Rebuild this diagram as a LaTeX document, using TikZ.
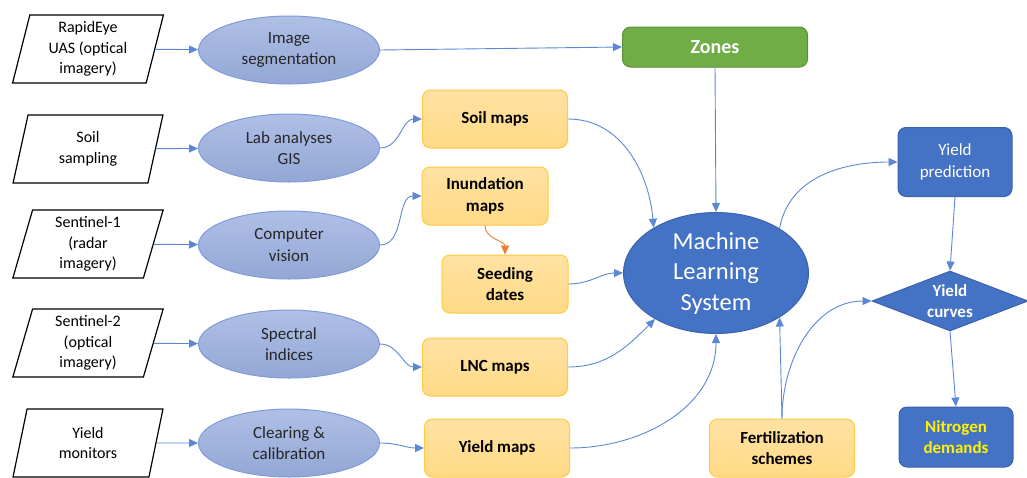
\documentclass[tikz,border=0pt]{standalone}
\usepackage{fontspec}
\setmainfont{Carlito}
\usetikzlibrary{shapes.geometric,arrows.meta}
\definecolor{procfill}{HTML}{9BB0E0}
\definecolor{procline}{HTML}{7F9BD8}
\definecolor{mapfill}{HTML}{FFD985}
\definecolor{mapline}{HTML}{FFC941}
\definecolor{darkblue}{HTML}{4472C4}
\definecolor{darkline}{HTML}{3A62AD}
\definecolor{zonegreen}{HTML}{70AD47}
\definecolor{zoneline}{HTML}{5A8F38}
\definecolor{linkblue}{HTML}{5B87D6}
\definecolor{linkorange}{HTML}{ED7D31}
\begin{document}
\begin{tikzpicture}[x=1pt, y=-1pt,
        txt/.style={font=\fontsize{17}{21.5}\selectfont, align=center},
        source/.style={txt, font=\fontsize{16}{20.5}\selectfont, trapezium,
            trapezium left angle=78, trapezium right angle=102,
            trapezium stretches=true, draw=black, line width=1.2pt,
            minimum width=151pt, minimum height=68pt, inner sep=0pt},
        proc/.style={txt, ellipse, draw=procline, line width=1pt,
            top color=procfill!80!white, bottom color=procfill!95!black,
            minimum width=181pt, minimum height=68pt, inner sep=0pt, text=black!85},
        map/.style={txt, font=\fontsize{17}{21.5}\selectfont\bfseries, rectangle, rounded corners=8pt,
            draw=mapline, line width=1pt, top color=mapfill!75!white, bottom color=mapfill,
            minimum width=145pt, minimum height=58pt, inner sep=0pt},
        result/.style={txt, rectangle, rounded corners=8pt, draw=darkline, line width=1pt,
            fill=darkblue, text=white, minimum width=114pt, minimum height=69pt, inner sep=0pt},
        arrow/.style={-{Triangle[length=9pt,width=8pt]}, linkblue, line width=0.9pt}
    ]
    \useasboundingbox (0,0) rectangle (1027,477);
    % Input data
    \node[source] (rapideye) at (88,49) {RapidEye\\UAS (optical\\imagery)};
    \node[source] (soilsamp) at (88,149) {Soil\\sampling};
    \node[source] (sent1) at (88,244) {Sentinel-1\\(radar\\imagery)};
    \node[source] (sent2) at (88,343) {Sentinel-2\\(optical\\imagery)};
    \node[source] (monitors) at (88,443) {Yield\\monitors};
    % Processing steps
    \node[proc] (segment) at (289,50) {Image\\segmentation};
    \node[proc] (lab) at (289,148) {Lab analyses\\GIS};
    \node[proc] (vision) at (289,245) {Computer\\vision};
    \node[proc] (spectral) at (289,344) {Spectral\\indices};
    \node[proc] (clearing) at (289,443) {Clearing \&\\calibration};
    % Maps
    \node[map] (soilmaps) at (495,119) {Soil maps};
    \node[map, minimum width=126pt] (inundation) at (485,196) {Inundation\\maps};
    \node[map, minimum width=126pt] (seeding) at (505,284) {Seeding\\dates};
    \node[map] (lnc) at (495,367) {LNC maps};
    \node[map] (yieldmaps) at (497,448) {Yield maps};
    \node[map] (fert) at (782,448) {Fertilization\\schemes};
    % Model and outputs
    \node[map, font=\fontsize{20}{24}\selectfont\bfseries, fill=zonegreen, draw=zoneline,
        top color=zonegreen, bottom color=zonegreen, text=white,
        minimum width=185pt, minimum height=40pt] (zones) at (715,47) {Zones};
    \node[ellipse, draw=darkline, line width=1pt, fill=darkblue, text=white, align=center,
        font=\fontsize{24.5}{30.5}\selectfont, minimum width=185pt, minimum height=121pt,
        inner sep=0pt] (mls) at (716,273) {Machine\\Learning\\System};
    \node[result] (prediction) at (955,162) {Yield\\prediction};
    \node[txt, font=\fontsize{17}{21.5}\selectfont\bfseries, diamond, aspect=2.6, draw=darkline,
        line width=1pt, fill=darkblue, text=white, minimum width=156pt, minimum height=60pt,
        inner sep=0pt] (curves) at (950,301) {Yield\\curves};
    \node[result, font=\fontsize{17}{21.5}\selectfont\bfseries, text=yellow,
        minimum height=60pt] (nitrogen) at (956,437) {Nitrogen\\demands};
    % Edges
    \draw[arrow] (rapideye) -- (segment);
    \draw[arrow] (soilsamp) -- (lab);
    \draw[arrow] (sent1) -- (vision);
    \draw[arrow] (sent2) -- (spectral);
    \draw[arrow] (monitors) -- (clearing);
    \draw[arrow] (segment.east) -- (zones.west);
    \draw[arrow] (lab.east) to[out=0, in=180] (soilmaps.west);
    \draw[arrow] (vision.east) to[out=0, in=180] (inundation.west);
    \draw[arrow] (spectral.east) to[out=0, in=180] (lnc.west);
    \draw[arrow] (clearing.east) to[out=0, in=180] (yieldmaps.west);
    \draw[-{Triangle[length=9pt,width=8pt]}, linkorange, line width=0.9pt]
        (inundation.south) to[out=270, in=90] (seeding.north);
    \draw[arrow] (soilmaps.east) to[out=0, in=95] (mls.144);
    \draw[arrow] (seeding.east) to[out=0, in=180] (mls.west);
    \draw[arrow] (lnc.east) to[out=0, in=225] (mls.217);
    \draw[arrow] (yieldmaps.east) to[out=0, in=270] (mls.south);
    \draw[arrow] (zones.south) -- (mls.north);
    \draw[arrow] (fert.north) -- (mls.-35);
    \draw[arrow] (fert.north) to[out=90, in=180] (curves.west);
    \draw[arrow] (mls.35) to[out=80, in=180] (prediction.west);
    \draw[arrow] (prediction.south) -- (curves.north);
    \draw[arrow] (curves.south) -- (nitrogen.north);
\end{tikzpicture}
\end{document}
